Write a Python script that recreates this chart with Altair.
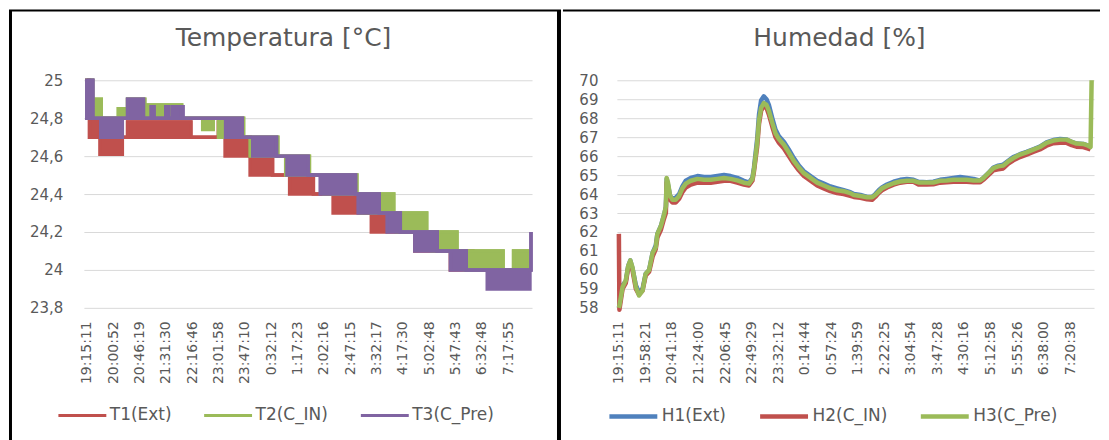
import altair as alt
import pandas as pd

# ---------------- axis labels / categories ----------------
TEMP_LABELS = ["19:15:11", "20:00:52", "20:46:19", "21:31:30", "22:16:46", "23:01:58",
               "23:47:10", "0:32:12", "1:17:23", "2:02:16", "2:47:15", "3:32:17",
               "4:17:30", "5:02:48", "5:47:43", "6:32:48", "7:17:55"]
HUM_LABELS = ["19:15:11", "19:58:21", "20:41:18", "21:24:00", "22:06:45", "22:49:29",
              "23:32:12", "0:14:44", "0:57:24", "1:39:59", "2:22:25", "3:04:54",
              "3:47:28", "4:30:16", "5:12:58", "5:55:26", "6:38:00", "7:20:38"]
TEMP_TICKS = [23.8, 24.0, 24.2, 24.4, 24.6, 24.8, 25.0]
HUM_TICKS = [58, 59, 60, 61, 62, 63, 64, 65, 66, 67, 68, 69, 70]
TEMP_SERIES = ["T1(Ext)", "T2(C_IN)", "T3(C_Pre)"]
HUM_SERIES = ["H1(Ext)", "H2(C_IN)", "H3(C_Pre)"]
TEMP_COLORS = ["#C0504D", "#9BBB59", "#8064A2"]
HUM_COLORS = ["#4F81BD", "#C0504D", "#9BBB59"]
TEMP_TITLE = "Temperatura [°C]"
HUM_TITLE = "Humedad [%]"

# ---------------- temperature (position in label steps, low / high of the band) ----------------
T1_T = [0.00, 0.10, 0.50, 1.35, 1.55, 3.95, 5.00, 5.25, 6.20, 7.05, 7.70, 8.60, 9.35,
        10.55, 10.80, 11.75, 12.45, 13.30, 13.80, 14.65, 16.88]
T1_LO = [24.80, 24.70, 24.61, 24.70, 24.70, 24.70, 24.70, 24.60, 24.50, 24.50, 24.40, 24.40,
         24.30, 24.30, 24.20, 24.20, 24.10, 24.10, 24.00, 24.00, 24.00]
T1_HI = [25.00, 24.80, 24.70, 24.70, 24.78, 24.70, 24.78, 24.70, 24.60, 24.50, 24.50, 24.40,
         24.40, 24.30, 24.30, 24.20, 24.20, 24.10, 24.10, 24.00, 24.00]

T2_T = [0.00, 0.22, 0.55, 1.20, 1.55, 2.20, 3.60, 4.40, 4.80, 5.00, 5.95, 6.20, 7.25, 7.55,
        8.45, 9.00, 10.25, 10.40, 11.65, 11.75, 12.90, 13.10, 14.05, 14.35, 15.80, 16.20, 16.80]
T2_LO = [24.80, 24.80, 24.80, 24.80, 24.80, 24.80, 24.80, 24.74, 24.80, 24.70, 24.70, 24.60,
         24.60, 24.50, 24.50, 24.40, 24.40, 24.30, 24.30, 24.20, 24.20, 24.10, 24.10, 24.00,
         24.00, 24.00, 24.10]
T2_HI = [25.00, 24.90, 24.80, 24.85, 24.90, 24.87, 24.80, 24.80, 24.80, 24.80, 24.70, 24.70,
         24.60, 24.60, 24.50, 24.50, 24.40, 24.40, 24.30, 24.30, 24.20, 24.20, 24.10, 24.10,
         24.00, 24.10, 24.10]

T3_T = [0.00, 0.23, 0.53, 1.35, 1.55, 2.15, 2.45, 2.55, 3.00, 3.10, 3.25, 3.35, 3.45, 3.65,
        5.27, 5.90, 6.30, 7.20, 7.60, 8.40, 8.86, 10.20, 10.30, 11.10, 11.40, 11.90, 12.45,
        13.30, 13.80, 14.40, 15.20, 16.82, 16.86]
T3_LO = [24.80, 24.80, 24.70, 24.80, 24.80, 24.80, 24.80, 24.80, 24.80, 24.80, 24.80, 24.80,
         24.80, 24.80, 24.70, 24.70, 24.60, 24.60, 24.50, 24.50, 24.40, 24.40, 24.30, 24.30,
         24.20, 24.20, 24.10, 24.10, 24.00, 24.00, 23.90, 24.00, 24.00]
T3_HI = [25.00, 24.80, 24.80, 24.80, 24.90, 24.80, 24.86, 24.80, 24.86, 24.80, 24.86, 24.80,
         24.86, 24.80, 24.80, 24.70, 24.70, 24.60, 24.60, 24.50, 24.50, 24.40, 24.40, 24.30,
         24.30, 24.20, 24.20, 24.10, 24.10, 24.00, 24.00, 24.00, 24.20]

# ---------------- humidity ----------------
H_T = [0.00, 0.02, 0.14, 0.26, 0.35, 0.43, 0.51, 0.64, 0.76, 0.89, 1.01, 1.14, 1.27, 1.39,
       1.45, 1.58, 1.70, 1.77, 1.80, 1.85, 1.93, 2.02, 2.14, 2.27, 2.39, 2.52, 2.71, 2.96,
       3.21, 3.46, 3.71, 3.96, 4.21, 4.46, 4.71, 4.90, 5.03, 5.09, 5.21, 5.28, 5.36, 5.46,
       5.56, 5.65, 5.78, 5.90, 6.03, 6.22, 6.40, 6.59, 6.78, 6.97, 7.22, 7.47, 7.72, 7.97,
       8.22, 8.47, 8.72, 8.85, 9.10, 9.35, 9.54, 9.66, 9.79, 9.91, 10.10, 10.35, 10.60, 10.85,
       11.10, 11.29, 11.60, 11.85, 12.10, 12.35, 12.60, 12.86, 13.11, 13.36, 13.61, 13.73,
       13.92, 14.11, 14.29, 14.48, 14.67, 14.86, 15.11, 15.36, 15.61, 15.86, 16.11, 16.37,
       16.62, 16.87, 17.06, 17.24, 17.49, 17.68, 17.77, 17.81]
H3 = [58.0, 58.1, 59.1, 59.45, 60.2, 60.5, 60.15, 59.1, 58.65, 58.9, 59.8, 60.0, 60.9, 61.2,
      61.9, 62.3, 62.9, 63.35, 64.85, 64.6, 63.9, 63.7, 63.7, 63.9, 64.3, 64.55, 64.7, 64.8,
      64.75, 64.75, 64.8, 64.85, 64.8, 64.72, 64.6, 64.55, 64.8, 65.3, 66.7, 67.9, 68.55, 68.8,
      68.7, 68.4, 67.75, 67.2, 66.9, 66.6, 66.2, 65.75, 65.4, 65.1, 64.85, 64.6, 64.45, 64.3,
      64.2, 64.15, 64.05, 63.95, 63.9, 63.83, 63.83, 63.95, 64.13, 64.3, 64.43, 64.57, 64.66,
      64.7, 64.7, 64.61, 64.61, 64.61, 64.7, 64.72, 64.75, 64.75, 64.75, 64.72, 64.72, 64.84,
      65.1, 65.37, 65.46, 65.5, 65.72, 65.9, 66.08, 66.2, 66.34, 66.48, 66.7, 66.82, 66.87,
      66.87, 66.75, 66.66, 66.64, 66.55, 66.48, 70.0]
H1 = [58.0, 58.1, 59.2, 59.4, 60.2, 60.5, 60.1, 59.2, 58.8, 59.0, 59.8, 60.0, 60.9, 61.3,
      61.9, 62.3, 62.9, 63.3, 64.8, 64.5, 63.9, 63.75, 63.8, 64.0, 64.4, 64.7, 64.85, 64.95,
      64.9, 64.9, 64.95, 65.0, 64.95, 64.85, 64.7, 64.6, 64.85, 65.4, 66.9, 68.2, 68.95, 69.15,
      69.0, 68.7, 68.0, 67.4, 67.05, 66.75, 66.35, 65.9, 65.5, 65.2, 64.95, 64.7, 64.55, 64.4,
      64.3, 64.2, 64.1, 64.0, 63.95, 63.85, 63.85, 64.0, 64.2, 64.35, 64.5, 64.65, 64.75,
      64.8, 64.75, 64.65, 64.62, 64.65, 64.75, 64.8, 64.85, 64.9, 64.85, 64.8, 64.7, 64.85,
      65.1, 65.4, 65.5, 65.55, 65.75, 65.95, 66.1, 66.22, 66.36, 66.5, 66.72, 66.85, 66.9,
      66.88, 66.75, 66.66, 66.64, 66.55, 66.45, None]
H2 = [61.9, 57.9, 59.0, 59.3, 60.1, 60.4, 60.0, 59.0, 58.7, 58.9, 59.7, 59.9, 60.7, 61.1,
      61.7, 62.1, 62.7, 63.0, 64.6, 64.3, 63.7, 63.55, 63.55, 63.75, 64.1, 64.35, 64.5, 64.6,
      64.6, 64.6, 64.65, 64.7, 64.7, 64.6, 64.5, 64.45, 64.7, 65.2, 66.5, 67.7, 68.4, 68.65,
      68.55, 68.2, 67.55, 67.0, 66.7, 66.4, 66.0, 65.6, 65.25, 64.95, 64.7, 64.45, 64.3, 64.15,
      64.05, 64.0, 63.9, 63.85, 63.8, 63.72, 63.7, 63.85, 64.05, 64.2, 64.35, 64.5, 64.6,
      64.65, 64.65, 64.5, 64.5, 64.52, 64.6, 64.62, 64.65, 64.65, 64.65, 64.62, 64.62, 64.75,
      65.0, 65.25, 65.3, 65.35, 65.6, 65.78, 65.95, 66.08, 66.22, 66.35, 66.55, 66.68, 66.7,
      66.7, 66.58, 66.5, 66.48, 66.4, 66.35, None]

# ---------------- build tables ----------------
temp_rows = []
for name, ts, los, his in zip(TEMP_SERIES, [T1_T, T2_T, T3_T], [T1_LO, T2_LO, T3_LO],
                              [T1_HI, T2_HI, T3_HI]):
    for t, lo, hi in zip(ts, los, his):
        temp_rows.append({"t": t, "lo": lo, "hi": hi, "serie_t": name})
tdf = pd.DataFrame(temp_rows)

hum_rows = []
for name, vals in zip(HUM_SERIES, [H1, H2, H3]):
    for t, v in zip(H_T, vals):
        if v is not None:
            hum_rows.append({"t": t, "v": v, "serie_h": name})
hdf = pd.DataFrame(hum_rows)

FONT = "DejaVu Sans"
GREY = "#595959"
one = pd.DataFrame({"k": [0]})


def frame_rule(x, x2, y, y2, w):
    return alt.Chart(one).mark_rule(color="black", strokeWidth=w, strokeCap="butt").encode(
        x=alt.value(x), x2=alt.value(x2), y=alt.value(y), y2=alt.value(y2))


def title_text(text, x, y):
    return alt.Chart(one).mark_text(
        text=text, font=FONT, fontSize=25, color=GREY, align="center", baseline="alphabetic"
    ).encode(x=alt.value(x), y=alt.value(y))


def js_array(items):
    return "[" + ",".join("'" + s + "'" for s in items) + "]"


def make_legend(x, pad, sw):
    return alt.Legend(title=None, orient="none", legendX=x, legendY=310,
                      direction="horizontal", symbolFillColor="transparent",
                      symbolType="stroke", symbolSize=2304, symbolStrokeWidth=sw,
                      labelFont=FONT, labelFontSize=17, labelColor=GREY, labelOffset=2,
                      columnPadding=pad, padding=0)


# ---------------- temperature panel ----------------
TW, TH = 449, 228
t_xscale = alt.Scale(domain=[-0.11, 16.9], nice=False, zero=False)
t_xaxis = alt.Axis(values=list(range(len(TEMP_LABELS))),
                   labelExpr=js_array(TEMP_LABELS) + "[datum.value]",
                   labelAngle=270, grid=False, domain=False, ticks=False, tickSize=0,
                   labelPadding=13, labelFont=FONT, labelFontSize=14, labelColor=GREY,
                   labelOverlap=False, labelFlush=False)
t_yscale = alt.Scale(domain=[23.8, 25.0], nice=False, zero=False)
t_yaxis = alt.Axis(values=TEMP_TICKS,
                   labelExpr="replace(format(datum.value, '.1~f'), '.', ',')",
                   grid=True, gridColor="#D9D9D9", gridWidth=1, domain=False,
                   ticks=False, tickSize=0, labelPadding=21, labelFont=FONT,
                   labelFontSize=15, labelColor=GREY)
t_scale = alt.Scale(domain=TEMP_SERIES, range=TEMP_COLORS)
t_legend = make_legend(-27, 26, 3.0)


def temp_layers(i):
    name = TEMP_SERIES[i]
    col = TEMP_COLORS[i]
    base = alt.Chart(tdf).transform_filter(alt.datum.serie_t == name)
    band = base.mark_area(
        interpolate="step-after", fill=col, stroke=col, strokeWidth=3.5, opacity=1,
        strokeJoin="miter"
    ).encode(
        x=alt.X("t:Q", title=None, scale=t_xscale, axis=t_xaxis),
        y=alt.Y("lo:Q", title=None, scale=t_yscale, axis=t_yaxis),
        y2="hi:Q",
    )
    edge = base.mark_line(interpolate="step-after", strokeWidth=3.5).encode(
        x=alt.X("t:Q", title=None, scale=t_xscale, axis=t_xaxis),
        y=alt.Y("hi:Q", title=None, scale=t_yscale, axis=t_yaxis),
        color=alt.Color("serie_t:N", scale=t_scale, legend=t_legend),
    )
    return [band, edge]


temp_chart = alt.layer(
    *temp_layers(0),
    *temp_layers(1),
    *temp_layers(2),
    frame_rule(-73.5, -73.5, -70, 361, 3),
    frame_rule(-75, 478, -70, -70, 2),
    frame_rule(476, 476, -70, 361, 4),
    title_text(TEMP_TITLE, 200, -34),
).properties(width=TW, height=TH)

# ---------------- humidity panel ----------------
HW, HH = 478, 228
h_x = alt.X("t:Q", title=None,
            scale=alt.Scale(domain=[-0.075, 17.9], nice=False, zero=False),
            axis=alt.Axis(values=list(range(len(HUM_LABELS))),
                          labelExpr=js_array(HUM_LABELS) + "[datum.value]",
                          labelAngle=270, grid=False, domain=False, ticks=False, tickSize=0,
                          labelPadding=13, labelFont=FONT, labelFontSize=14, labelColor=GREY,
                          labelOverlap=False, labelFlush=False))
h_y = alt.Y("v:Q", title=None,
            scale=alt.Scale(domain=[58, 70], nice=False, zero=False),
            axis=alt.Axis(values=HUM_TICKS, grid=True, gridColor="#D9D9D9", gridWidth=1,
                          domain=False, ticks=False, tickSize=0, labelPadding=19,
                          labelFont=FONT, labelFontSize=15, labelColor=GREY))
h_scale = alt.Scale(domain=HUM_SERIES, range=HUM_COLORS)
h_legend = make_legend(-10, 24, 4.5)


def hum_layer(name):
    return alt.Chart(hdf).transform_filter(alt.datum.serie_h == name).mark_line(
        strokeWidth=4.5, strokeJoin="round"
    ).encode(
        x=h_x, y=h_y,
        color=alt.Color("serie_h:N", scale=h_scale, legend=h_legend),
    )


hum_chart = alt.layer(
    hum_layer(HUM_SERIES[0]),
    hum_layer(HUM_SERIES[1]),
    hum_layer(HUM_SERIES[2]),
    frame_rule(-54, 484, -70, -70, 2),
    title_text(HUM_TITLE, 223, -34),
).properties(width=HW, height=HH)

chart = alt.hconcat(temp_chart, hum_chart, spacing=0).resolve_scale(
    x="independent", y="independent", color="independent"
).properties(
    padding=0, background="white"
).configure_view(stroke=None)

chart.save("out.html", embed_options={"renderer": "svg", "actions": False})
